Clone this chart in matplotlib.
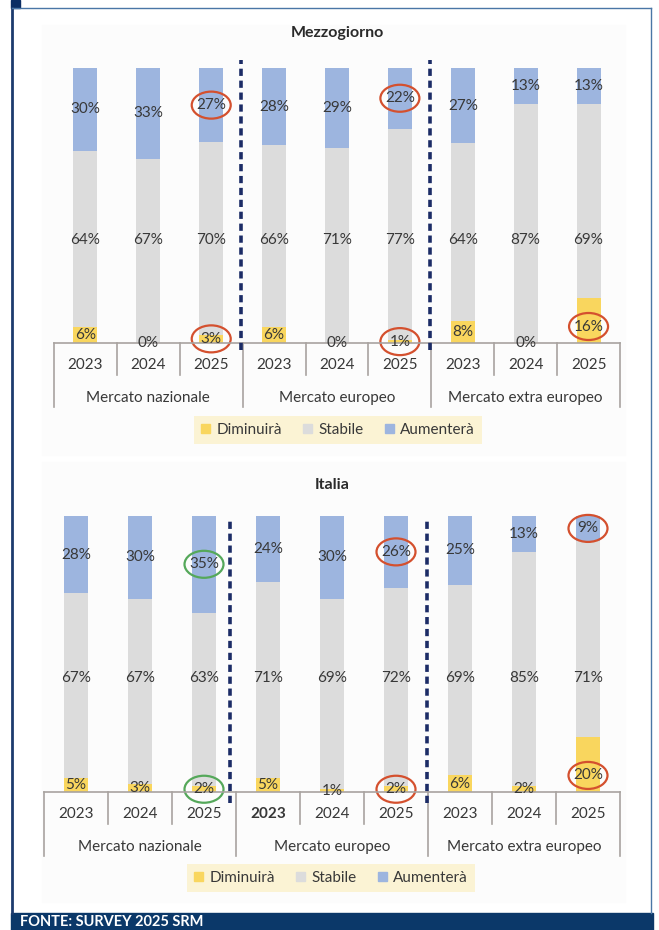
import numpy as np
import pandas as pd
import matplotlib.pyplot as plt
from matplotlib.patches import Patch, Rectangle, Ellipse
from matplotlib.lines import Line2D
from matplotlib.transforms import Affine2D, ScaledTranslation

plt.rcParams['font.family'] = ['Lato', 'DejaVu Sans']

# Data (percent of respondents)
years = ['2023', '2024', '2025']
markets = ['Mercato nazionale', 'Mercato europeo', 'Mercato extra europeo']
series_names = ['Diminuirà', 'Stabile', 'Aumenterà']

mezz_dim = [6, 0, 3, 6, 0, 1, 8, 0, 16]
mezz_stab = [64, 67, 70, 66, 71, 77, 64, 87, 69]
mezz_aum = [30, 33, 27, 28, 29, 22, 27, 13, 13]

ita_dim = [5, 3, 2, 5, 1, 2, 6, 2, 20]
ita_stab = [67, 67, 63, 71, 69, 72, 69, 85, 71]
ita_aum = [28, 30, 35, 24, 30, 26, 25, 13, 9]

YEL = '#f9d65e'
GRY = '#dcdcdc'
BLU = '#9db5df'
TXT = '#383838'
SEP = '#a8a3a0'
NAVY = '#1c2c66'
RED = '#d4502e'
GREEN = '#55a85a'

W, H = 659, 930


def fx(px):
    return px / W


def fy(py):
    return 1 - py / H


def draw_panel(fig, title, dim, stab, aum, box, title_y, stab_y, dash, dash_span,
               marks, bold_ticks, legend_xy):
    left, right, top, base = box
    h = base - top
    ax = fig.add_axes([fx(left), fy(base), (right - left) / W, h / H])

    df = pd.DataFrame({'dim': dim, 'stab': stab, 'aum': aum})
    share = df.div(df.sum(axis=1), axis=0) * 100
    x = np.arange(len(df)) + 0.5

    ax.bar(x, share['dim'], width=0.38, color=YEL)
    ax.bar(x, share['stab'], bottom=share['dim'], width=0.38, color=GRY)
    ax.bar(x, share['aum'], bottom=share['dim'] + share['stab'], width=0.38, color=BLU)
    ax.set_xlim(0, 9)
    ax.set_ylim(0, 100)
    ax.axis('off')

    # value labels
    lab_y = {
        'dim': (share['dim'] / 2).clip(upper=6),
        'stab': pd.Series([stab_y] * len(df)),
        'aum': share['dim'] + share['stab'] + share['aum'] / 2,
    }
    for key in ['dim', 'stab', 'aum']:
        for i in range(len(df)):
            ax.text(x[i], lab_y[key][i], f'{df[key][i]}%', ha='center', va='center',
                    fontsize=11, color=TXT, clip_on=False)

    # hand-drawn style rings around the highlighted values (size in pixels)
    for key, i, c in marks:
        tr = Affine2D() + ScaledTranslation(x[i], lab_y[key][i], ax.transData)
        ax.add_patch(Ellipse((0, 0), 39, 27, transform=tr, fc='none', ec=c,
                             lw=1.6, clip_on=False))

    # category axis
    tr = ax.get_xaxis_transform()
    ax.plot([0, 9], [0, 0], color=SEP, lw=1.2, transform=tr, clip_on=False)
    for k in range(10):
        depth = 64 if k % 3 == 0 else 32
        ax.plot([k, k], [0, -depth / h], color=SEP, lw=1.2, transform=tr, clip_on=False)
    for i in range(len(df)):
        ax.text(x[i], -22 / h, years[i % 3], ha='center', va='center', fontsize=11,
                color=TXT, transform=tr, weight='bold' if i in bold_ticks else 'normal')
    for g, name in enumerate(markets):
        ax.text(g * 3 + 1.5, -55 / h, name, ha='center', va='center', fontsize=11,
                color=TXT, transform=tr)

    for d in dash:
        ax.plot([d, d], dash_span, color=NAVY, lw=2.6, ls=(0, (2, 1.3)), clip_on=False)

    fig.text(fx((left + right) / 2), fy(title_y), title, ha='center', va='center',
             fontsize=11.5, weight='bold', color='#2a2a2a')

    handles = [Patch(color=c, label=n) for c, n in zip([YEL, GRY, BLU], series_names)]
    leg = ax.legend(handles=handles, loc='center', ncol=3,
                    bbox_to_anchor=(fx(legend_xy[0]), fy(legend_xy[1])),
                    bbox_transform=fig.transFigure, frameon=True, facecolor='#fbf3d4',
                    edgecolor='none', fancybox=False, framealpha=1, fontsize=11,
                    handlelength=0.6, handleheight=0.6, handletextpad=0.4,
                    columnspacing=1.4, borderpad=0.45)
    for t in leg.get_texts():
        t.set_color(TXT)
    return ax


fig = plt.figure(figsize=(W / 100, H / 100), dpi=100)

# faint panels behind the two charts
for y0, y1 in [(25, 455), (462, 902)]:
    fig.add_artist(Rectangle((fx(42), fy(y1)), (625 - 42) / W, (y1 - y0) / H,
                             transform=fig.transFigure, color='#fcfcfc', zorder=0))

draw_panel(fig, 'Mezzogiorno', mezz_dim, mezz_stab, mezz_aum,
           box=(54, 620, 68, 343), title_y=33, stab_y=37.5,
           dash=[2.98, 5.98], dash_span=[-2.5, 103],
           marks=[('aum', 2, RED), ('dim', 2, RED), ('aum', 5, RED),
                  ('dim', 5, RED), ('dim', 8, RED)],
           bold_ticks=[], legend_xy=(338, 430))

draw_panel(fig, 'Italia', ita_dim, ita_stab, ita_aum,
           box=(44, 620, 516, 792), title_y=485, stab_y=41.3,
           dash=[2.9, 5.99], dash_span=[-4, 99.3],
           marks=[('aum', 2, GREEN), ('dim', 2, GREEN), ('aum', 5, RED),
                  ('dim', 5, RED), ('aum', 8, RED), ('dim', 8, RED)],
           bold_ticks=[3], legend_xy=(331, 878))

# frame and footer
fig.add_artist(Line2D([fx(12), fx(12)], [fy(8), fy(913)], color='#1d3b6e', lw=2))
fig.add_artist(Line2D([fx(12), fx(651)], [fy(8), fy(8)], color='#4a76a6', lw=1))
fig.add_artist(Line2D([fx(651), fx(651)], [fy(8), fy(913)], color='#4a76a6', lw=1))
fig.add_artist(Rectangle((fx(11), fy(8)), 9 / W, 8 / H, transform=fig.transFigure,
                         color='#0b2d63'))
fig.add_artist(Rectangle((fx(11), 0), (653 - 11) / W, 17 / H, transform=fig.transFigure,
                         color='#0b3869'))
fig.text(fx(20), fy(921.5), 'FONTE: SURVEY 2025 SRM', ha='left', va='center',
         fontsize=10.5, weight='bold', color='white')

fig.savefig('out.png', dpi=100)
